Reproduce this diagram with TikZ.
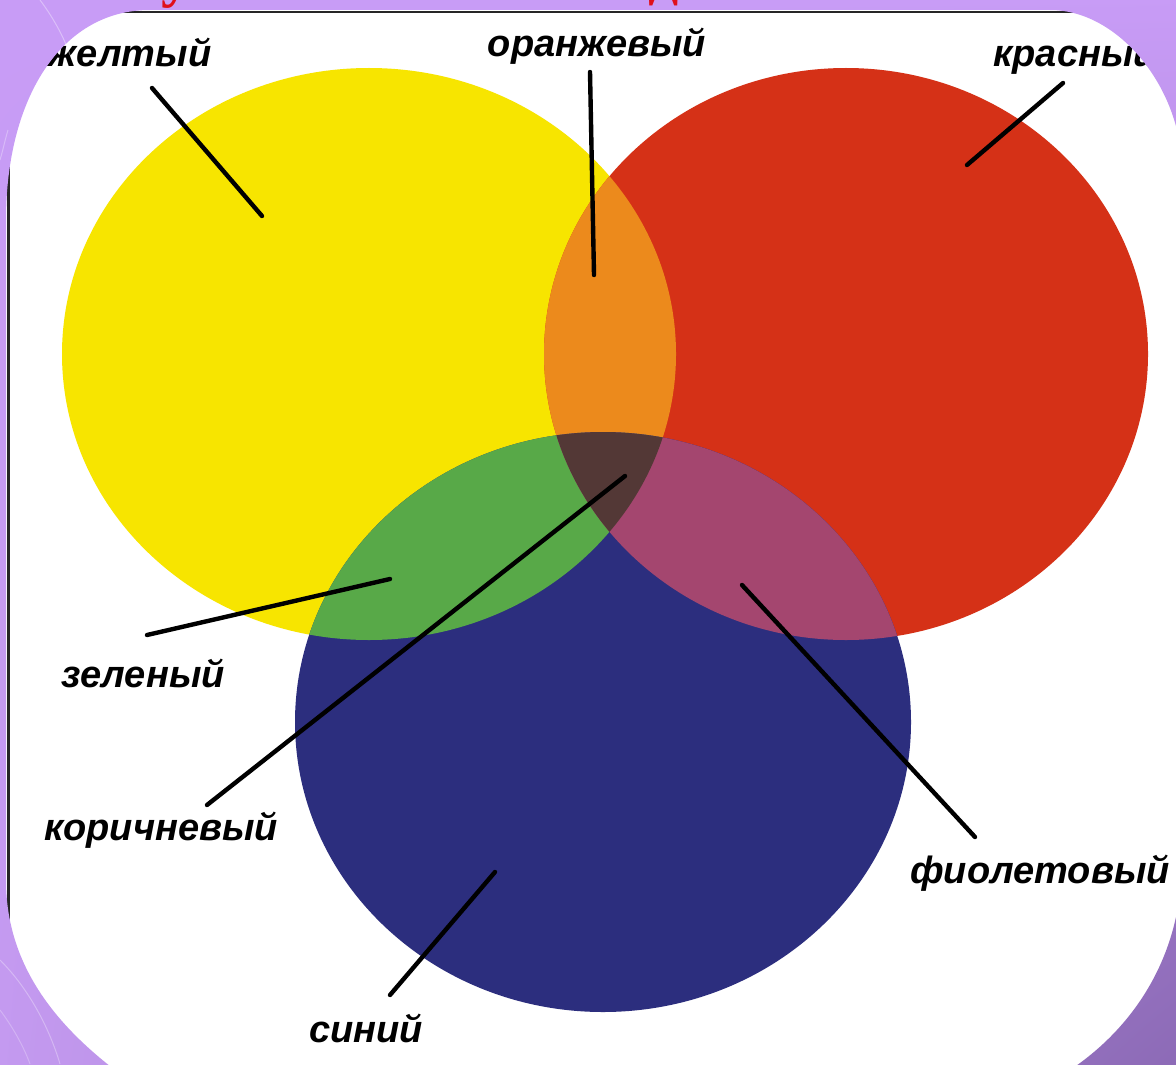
\documentclass[tikz,border=0pt]{standalone}
\usepackage{fontspec}
\usetikzlibrary{shadings}
\setmainfont{Liberation Sans}
\newfontfamily\titlefont{Liberation Serif}
\definecolor{yel}{HTML}{F7E500}
\definecolor{redc}{HTML}{D53117}
\definecolor{bluc}{HTML}{2C2E7E}
\definecolor{orac}{HTML}{EC8A1C}
\definecolor{grnc}{HTML}{58A948}
\definecolor{magc}{HTML}{A4466F}
\definecolor{brnc}{HTML}{533836}
\definecolor{purl}{HTML}{C89CF6}
\definecolor{purm}{HTML}{C49AF0}
\definecolor{purd}{HTML}{8C6AB6}
\definecolor{titlered}{HTML}{E0101A}
\begin{document}
\begin{tikzpicture}[x=0.5pt,y=-0.5pt,
  lbl/.style={font=\fontsize{19}{22}\selectfont\bfseries\itshape, inner sep=0pt, anchor=base, text=black},
  leader/.style={line width=2.2pt, line cap=round, draw=black},
  frameline/.style={line width=1.4pt, draw=black!85}]
\useasboundingbox (0,0) rectangle (1176,1064);
\clip (0,0) rectangle (1176,1064);
\fill[white] (0,0) rectangle (1176,1064);
% border of the inserted picture
\draw[frameline] (8.5,1100) -- (8.5,12) -- (1200,12);
% three circles
\fill[yel] (369,354) ellipse [x radius=307, y radius=286];
\fill[redc] (846,354) ellipse [x radius=302, y radius=286];
\fill[bluc] (603,722) ellipse [x radius=308, y radius=290];
\begin{scope}
  \clip (369,354) ellipse [x radius=307, y radius=286];
  \fill[orac] (846,354) ellipse [x radius=302, y radius=286];
  \fill[grnc] (603,722) ellipse [x radius=308, y radius=290];
\end{scope}
\begin{scope}
  \clip (846,354) ellipse [x radius=302, y radius=286];
  \fill[magc] (603,722) ellipse [x radius=308, y radius=290];
\end{scope}
\begin{scope}
  \clip (369,354) ellipse [x radius=307, y radius=286];
  \clip (846,354) ellipse [x radius=302, y radius=286];
  \fill[brnc] (603,722) ellipse [x radius=308, y radius=290];
\end{scope}
% labels
\node[lbl] (yellow) at (130,67) {желтый};
\node[lbl] (orange) at (597,57) {оранжевый};
\node[lbl, anchor=base west] (red) at (993,67) {красный};
\node[lbl] (green) at (143,687) {зеленый};
\node[lbl] (brown) at (161,840) {коричневый};
\node[lbl] (violet) at (1040,883) {фиолетовый};
\node[lbl] (blue) at (366,1042) {синий};
% leader end points
\coordinate (yA) at (152,88);   \coordinate (yB) at (262,216);
\coordinate (oA) at (590,72);   \coordinate (oB) at (594,275);
\coordinate (rA) at (1063,83);  \coordinate (rB) at (967,165);
\coordinate (gA) at (147,635);  \coordinate (gB) at (390,579);
\coordinate (bA) at (207,805);  \coordinate (bB) at (625,476);
\coordinate (vA) at (975,837);  \coordinate (vB) at (742,585);
\coordinate (sA) at (390,995);  \coordinate (sB) at (495,872);
\draw[leader] (yA) -- (yB);
\draw[leader] (oA) -- (oB);
\draw[leader] (rA) -- (rB);
\draw[leader] (gA) -- (gB);
\draw[leader] (bA) -- (bB);
\draw[leader] (vA) -- (vB);
\draw[leader] (sA) -- (sB);
% purple slide frame with a rounded window
\shade[even odd rule, upper left=purl, upper right=purl, lower left=purm, lower right=purd]
  (-5,-5) rectangle (1181,1069)
  (150,10) -- (1050,10) .. controls (1120,10) and (1182,90) .. (1182,170)
  -- (1182,860) .. controls (1182,960) and (1130,1030) .. (1070,1070)
  -- (115,1070) .. controls (50,1020) and (6,960) .. (6,880)
  -- (6,220) .. controls (6,100) and (60,10) .. (150,10) -- cycle;
% faint swirls of the slide background
\draw[white, opacity=0.35, line width=0.5pt] (40,0) .. controls (55,20) and (65,40) .. (70,55);
\draw[white, opacity=0.3, line width=0.5pt] (0,160) .. controls (3,150) and (5,140) .. (8,130);
\draw[white, opacity=0.3, line width=0.5pt] (0,960) .. controls (30,990) and (50,1030) .. (60,1064);
\draw[white, opacity=0.25, line width=0.5pt] (0,1010) .. controls (15,1030) and (25,1050) .. (30,1064);
% cut-off title above
\node[font=\titlefont\bfseries\fontsize{30}{32}\selectfont, text=titlered, inner sep=0pt, anchor=base] (t1) at (176,-4) {у};
\node[font=\titlefont\bfseries\fontsize{30}{32}\selectfont, text=titlered, inner sep=0pt, anchor=base] (t2) at (664,-4) {д};
\end{tikzpicture}
\end{document}
